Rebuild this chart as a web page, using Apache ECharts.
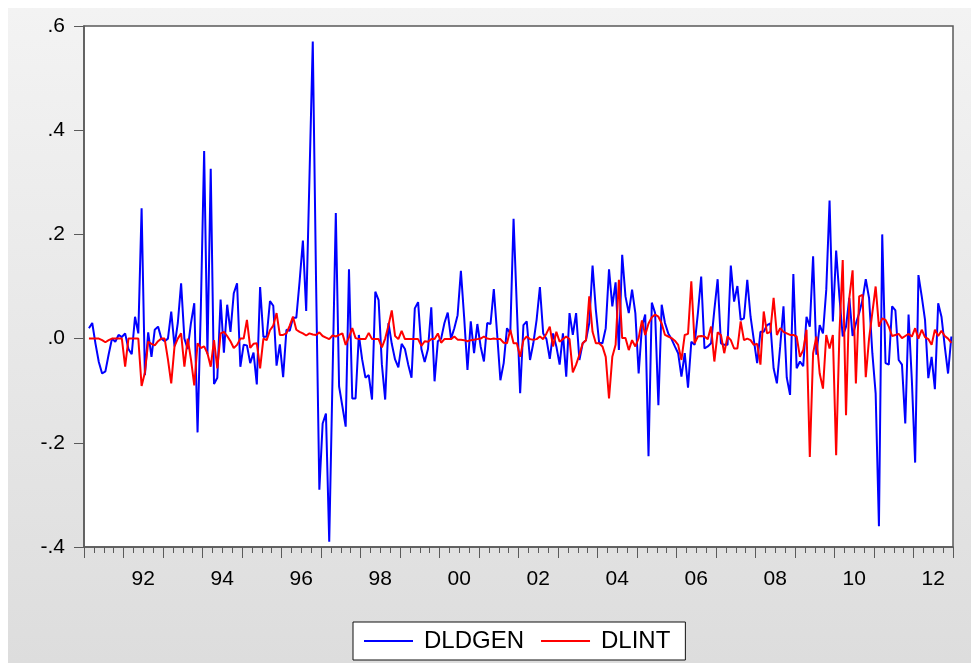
<!DOCTYPE html>
<html>
<head>
<meta charset="utf-8">
<script src="https://cdn.jsdelivr.net/npm/echarts@6/dist/echarts.min.js"></script>
<style>
html,body{margin:0;padding:0;background:#ffffff;}
#chart{width:971px;height:663px;}
</style>
</head>
<body>
<div id="chart"></div>
<script>
// Monthly observations start 1991-02, end 2012-12
var firstYear = 1991, firstMonth = 2;

var seriesNames = ['DLDGEN', 'DLINT'];

var dldgen = [
 0.02, 0.03, -0.01, -0.045, -0.067, -0.063, -0.03, 0.0, -0.006, 0.007, 0.003, 0.01,
 -0.02, -0.03, 0.042, 0.01, 0.25, -0.07, 0.012, -0.035, 0.017, 0.023, 0.0, -0.005,
 0.0, 0.052, -0.015, 0.03, 0.106, 0.0, -0.02, 0.03, 0.068, -0.18, 0.06, 0.36,
 -0.03, 0.326, -0.087, -0.075, 0.075, -0.027, 0.065, 0.013, 0.087, 0.106, -0.054, -0.012,
 -0.013, -0.047, -0.027, -0.088, 0.099, 0.003, 0.004, 0.072, 0.063, -0.052, -0.011, -0.074,
 0.017, 0.015, 0.04, 0.04, 0.11, 0.188, 0.053, 0.31, 0.57, 0.11, -0.29, -0.163,
 -0.144, -0.39, -0.075, 0.241, -0.092, -0.13, -0.169, 0.133, -0.115, -0.115, 0.007, -0.04,
 -0.075, -0.07, -0.117, 0.09, 0.074, -0.05, -0.117, 0.03, -0.01, -0.04, -0.055, -0.01,
 -0.02, -0.05, -0.075, 0.058, 0.07, -0.02, -0.045, -0.02, 0.06, -0.082, -0.005, 0.0,
 0.03, 0.05, 0.0, 0.02, 0.045, 0.13, 0.04, -0.06, 0.033, -0.028, 0.028, -0.015,
 -0.044, 0.03, 0.028, 0.095, 0.01, -0.08, -0.047, 0.02, 0.01, 0.23, 0.06, -0.105,
 0.026, 0.033, -0.041, -0.009, 0.036, 0.099, 0.01, -0.001, -0.039, 0.01, -0.015, -0.05,
 0.01, -0.073, 0.049, 0.007, 0.049, -0.041, -0.009, -0.003, 0.03, 0.14, 0.055, -0.008,
 -0.009, 0.02, 0.133, 0.062, 0.108, -0.022, 0.161, 0.081, 0.049, 0.094, 0.049, -0.067,
 0.023, 0.046, -0.226, 0.069, 0.049, -0.128, 0.065, 0.03, 0.01, -0.001, -0.015, -0.028,
 -0.073, -0.028, -0.094, -0.006, -0.012, 0.049, 0.119, -0.019, -0.015, -0.009, 0.055, 0.114,
 -0.009, -0.012, -0.012, 0.14, 0.071, 0.101, 0.036, 0.039, 0.113, 0.042, -0.003, -0.047,
 0.013, 0.013, 0.026, 0.029, -0.057, -0.086, -0.015, 0.062, -0.075, -0.108, 0.124, -0.057,
 -0.044, -0.053, 0.042, 0.023, 0.158, -0.031, 0.026, 0.01, 0.094, 0.265, 0.033, 0.169,
 0.08, 0.004, 0.023, 0.078, 0.005, 0.029, 0.049, 0.074, 0.114, 0.078, -0.028, -0.105,
 -0.36, 0.2, -0.047, -0.05, 0.062, 0.054, -0.041, -0.05, -0.163, 0.046, -0.08, -0.238,
 0.122, 0.081, 0.036, -0.076, -0.035, -0.097, 0.068, 0.042, -0.015, -0.067, 0.004
];

var dlint = [
 0, 0, 0, 0, -0.003, -0.007, -0.003, 0, 0, 0, 0, -0.054,
 0, 0, 0, 0, -0.091, -0.065, -0.006, -0.01, -0.013, -0.005, 0, 0,
 -0.04, -0.086, -0.015, 0, 0.01, -0.054, 0, -0.04, -0.09, -0.009, -0.018, -0.015,
 -0.028, -0.054, -0.003, -0.057, 0.01, 0.013, 0.005, -0.005, -0.018, -0.012, 0, 0,
 0.036, -0.018, -0.01, -0.009, -0.057, 0, -0.003, 0.016, 0.025, 0.049, 0.007, 0.007,
 0.01, 0.025, 0.042, 0.017, 0.013, 0.01, 0.006, 0.01, 0.008, 0.007, 0.012, 0.005,
 0.002, -0.001, 0.006, 0.004, 0.007, 0.01, -0.012, 0.003, 0.02, 0.001, -0.001, -0.001,
 -0.001, 0.011, -0.001, -0.001, -0.001, -0.017, 0, 0.025, 0.054, 0.005, -0.001, 0.015,
 -0.001, -0.001, -0.001, -0.001, -0.001, -0.014, -0.005, -0.006, -0.001, -0.001, 0.01, -0.008,
 -0.001, -0.001, -0.001, 0.004, -0.002, -0.002, -0.003, -0.005, -0.003, -0.002, -0.001, 0,
 0.004, 0, -0.001, 0, -0.001, -0.001, -0.008, -0.009, 0.017, -0.009, -0.009, -0.035,
 -0.003, 0.004, -0.001, -0.002, -0.001, 0.004, -0.001, 0.01, 0.023, -0.015, 0.013, -0.006,
 -0.001, 0.004, -0.001, -0.065, -0.05, -0.031, -0.009, -0.003, 0.081, 0.013, -0.009, -0.009,
 -0.015, -0.035, -0.115, -0.035, -0.012, 0.113, 0.001, 0.001, -0.022, -0.003, -0.015, 0.001,
 0.035, 0.007, 0.029, 0.041, 0.046, 0.042, 0.029, 0.007, 0.004, 0.001, -0.004, -0.012,
 -0.041, 0.007, 0.009, 0.11, -0.009, 0.004, 0.005, 0.004, -0.001, 0.023, -0.044, 0.012,
 0.007, -0.028, 0.004, -0.003, -0.019, -0.019, 0.033, -0.003, 0, -0.003, -0.012, -0.01,
 -0.05, 0.052, 0.01, 0.013, 0.078, 0.007, 0.02, 0.013, 0.01, 0.007, 0.007, 0.004,
 -0.035, -0.022, 0.017, -0.227, -0.028, 0.004, -0.067, -0.096, 0.007, -0.019, 0.007, -0.224,
 0.01, 0.151, -0.147, 0.078, 0.131, -0.086, 0.081, 0.084, -0.074, 0, 0.05, 0.1,
 0.023, 0.039, 0.036, 0.023, 0.005, 0.007, 0.009, 0.001, 0.005, 0.009, 0.004, 0.02,
 0, 0.017, 0.003, -0.001, -0.012, 0.017, 0.005, 0.015, 0.005, 0, -0.008
];

// x-axis tick labels (two-digit years, centred on each labelled year)
var xTickYears = [1992, 1994, 1996, 1998, 2000, 2002, 2004, 2006, 2008, 2010, 2012];
var xTickLabels = ['92', '94', '96', '98', '00', '02', '04', '06', '08', '10', '12'];
var yTickLabels = {'-0.4': '-.4', '-0.2': '-.2', '0.0': '.0', '0.2': '.2', '0.4': '.4', '0.6': '.6'};

// categories: monthly periods
var periods = [];
for (var k = 0; k < dldgen.length; k++) {
  var m = firstMonth - 1 + k;
  var yy = firstYear + Math.floor(m / 12);
  var mm = (m % 12) + 1;
  periods.push(yy + '-' + (mm < 10 ? '0' + mm : mm));
}
// position of each monthly observation (mid-month) on a year scale
function periodPos(p) {
  var parts = p.split('-');
  return +parts[0] + (+parts[1] - 0.5) / 12;
}
function toPairs(vals) {
  return periods.map(function (p, i) { return [periodPos(p), vals[i]]; });
}

var labelFont = 'Liberation Sans, Arial, sans-serif';
var chart = echarts.init(document.getElementById('chart'), null, {renderer: 'canvas'});

var labelCenters = xTickYears.map(function (y) { return y + 0.5; });
var yearTicks = [];
for (var y = 1991; y <= 2013; y++) yearTicks.push(y);

chart.setOption({
  animation: false,
  backgroundColor: '#ffffff',
  graphic: [{
    type: 'rect', z: -10, silent: true,
    shape: {x: 8, y: 8, width: 963, height: 655},
    style: {fill: new echarts.graphic.LinearGradient(0, 0, 0, 1, [
      {offset: 0, color: '#f3f3f3'}, {offset: 1, color: '#dddddd'}])}
  }],
  grid: {
    left: 84, right: 18, top: 26, bottom: 116,
    show: true, backgroundColor: '#ffffff', borderColor: '#5a5a5a', borderWidth: 1.5
  },
  legend: {
    data: seriesNames,
    left: 353, top: 622,
    orient: 'horizontal',
    backgroundColor: '#ffffff',
    borderColor: '#111111', borderWidth: 1,
    padding: [7, 15, 7, 11],
    itemGap: 17,
    itemWidth: 49, itemHeight: 2,
    icon: 'rect',
    textStyle: {fontFamily: labelFont, fontSize: 24, color: '#000000', padding: [0, 0, 0, 6]}
  },
  xAxis: [{
    type: 'value', min: 1991, max: 2013, interval: 1,
    splitLine: {show: false},
    axisLine: {show: true, onZero: false, lineStyle: {color: '#5a5a5a', width: 1.5}},
    axisTick: {show: true, inside: false, length: 11, customValues: yearTicks, lineStyle: {color: '#5a5a5a', width: 1}},
    minorTick: {show: false},
    axisLabel: {
      show: true, margin: 22, customValues: labelCenters,
      fontFamily: labelFont, fontSize: 21, color: '#000000',
      formatter: function (v) {
        var idx = xTickYears.indexOf(Math.floor(v));
        return idx >= 0 ? xTickLabels[idx] : '';
      }
    }
  }, {
    type: 'value', min: 1991, max: 2013, interval: 0.25, position: 'bottom',
    splitLine: {show: false},
    axisLine: {show: false, onZero: false},
    axisTick: {show: true, inside: false, length: 6, lineStyle: {color: '#5a5a5a', width: 1}},
    axisLabel: {show: false}
  }],
  yAxis: {
    type: 'value', min: -0.4, max: 0.6, interval: 0.2,
    splitLine: {show: false},
    axisLine: {show: true, onZero: false, lineStyle: {color: '#5a5a5a', width: 1.5}},
    axisTick: {show: true, inside: false, length: 10, lineStyle: {color: '#5a5a5a', width: 1}},
    axisLabel: {
      margin: 19, fontFamily: labelFont, fontSize: 21, color: '#000000',
      formatter: function (v) { var s = v.toFixed(1); return yTickLabels[s] || s; }
    }
  },
  series: [{
    name: seriesNames[0], type: 'line', xAxisIndex: 0, data: toPairs(dldgen),
    showSymbol: false, symbol: 'none', smooth: false,
    lineStyle: {color: '#0000ff', width: 2}, itemStyle: {color: '#0000ff'}
  }, {
    name: seriesNames[1], type: 'line', xAxisIndex: 0, data: toPairs(dlint),
    showSymbol: false, symbol: 'none', smooth: false,
    lineStyle: {color: '#ff0000', width: 2}, itemStyle: {color: '#ff0000'}
  }]
});
</script>
</body>
</html>
